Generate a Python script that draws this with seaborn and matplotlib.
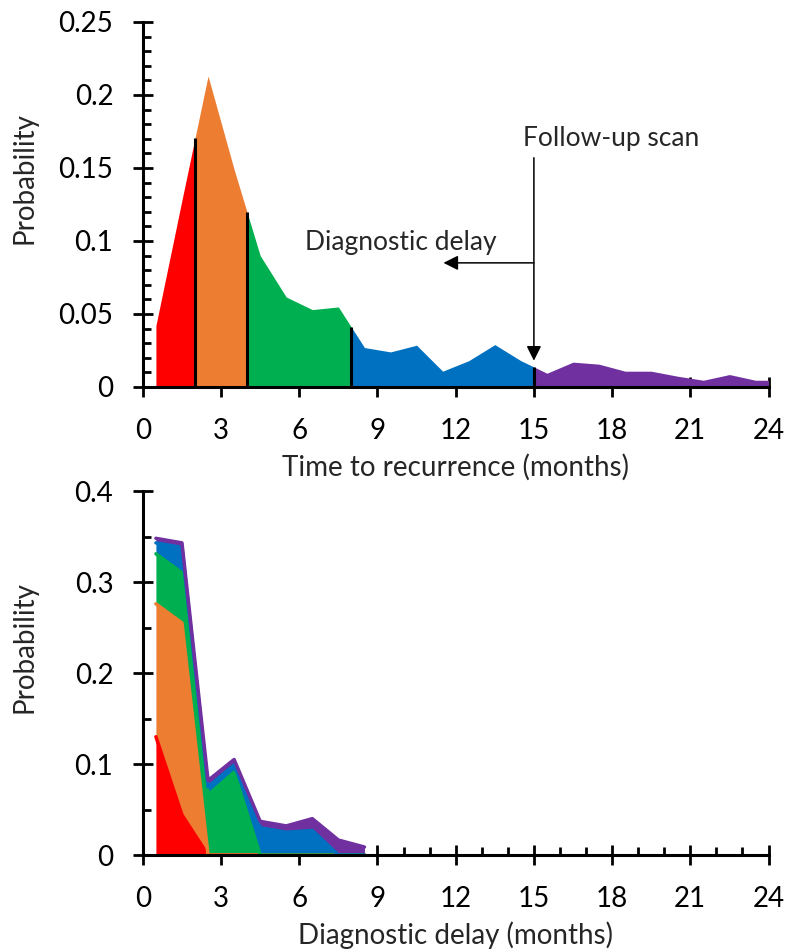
import numpy as np
import matplotlib
matplotlib.use("Agg")
import matplotlib.pyplot as plt
from matplotlib.ticker import MultipleLocator, FuncFormatter
import seaborn as sns

# --- top panel: time to recurrence, probability per month (bin centres) ---
recurrence_months = [0.5, 1.5, 2.5, 3.5, 4.5, 5.5, 6.5, 7.5, 8.5, 9.5, 10.5, 11.5,
                     12.5, 13.5, 14.5, 15.5, 16.5, 17.5, 18.5, 19.5, 20.5, 21.5,
                     22.5, 23.5, 24.0]
recurrence_prob = [0.042, 0.128, 0.213, 0.149, 0.090, 0.0616, 0.053, 0.0548,
                   0.027, 0.024, 0.0286, 0.0108, 0.018, 0.029, 0.018, 0.0094,
                   0.017, 0.0156, 0.0108, 0.0108, 0.0074, 0.0046, 0.0085,
                   0.0046, 0.0046]

# colour bands of the top curve (month boundaries)
band_edges = [0.5, 2, 4, 8, 15, 24]
band_colors = ["#FF0000", "#ED7D31", "#00B050", "#0070C0", "#7030A0"]
follow_up_month = 15

# --- bottom panel: diagnostic delay, stacked by band ---
delay_months = [0.5, 1.5, 2.5, 3.5, 4.5, 5.5, 6.5, 7.5, 8.5]
delay_red = [0.130, 0.044, 0, 0, 0, 0, 0, 0, 0]
delay_orange = [0.146, 0.211, 0, 0, 0, 0, 0, 0, 0]
delay_green = [0.055, 0.055, 0.066, 0.091, 0, 0, 0, 0, 0]
delay_blue = [0.012, 0.028, 0.009, 0.008, 0.030, 0.025, 0.027, 0, 0]
delay_purple = [0.005, 0.005, 0.007, 0.006, 0.007, 0.007, 0.013, 0.0165, 0.0088]

sns.set_theme(style="ticks")
plt.rcParams["font.family"] = ["Lato", "DejaVu Sans"]
FS = 20

fig = plt.figure(figsize=(7.85, 9.51), dpi=100)
ax1 = fig.add_axes([0.182, 0.5931, 0.797, 0.3838])
ax2 = fig.add_axes([0.182, 0.1009, 0.797, 0.3828])


def style_axis(ax, ymax, ymajor, yminor, xlabel):
    ax.set_xlim(0, 24)
    ax.set_ylim(0, ymax)
    ax.xaxis.set_major_locator(MultipleLocator(3))
    ax.xaxis.set_minor_locator(MultipleLocator(1))
    ax.yaxis.set_major_locator(MultipleLocator(ymajor))
    ax.yaxis.set_minor_locator(MultipleLocator(yminor))
    ax.yaxis.set_major_formatter(FuncFormatter(lambda v, p: f"{v:g}"))
    for s in ["top", "right"]:
        ax.spines[s].set_visible(False)
    for s in ["left", "bottom"]:
        ax.spines[s].set_linewidth(2.2)
        ax.spines[s].set_color("black")
        ax.spines[s].set_zorder(5)
    ax.tick_params(which="major", direction="inout", length=14.5, width=2.0,
                   color="black", labelsize=FS, labelcolor="black")
    ax.tick_params(which="minor", direction="in", length=6, width=2.0, color="black")
    ax.tick_params(axis="x", which="major", pad=15)
    ax.tick_params(axis="y", which="major", pad=14)
    ax.set_facecolor("white")
    ax.set_xlabel(xlabel, fontsize=FS, labelpad=7)
    ax.set_ylabel("Probability", fontsize=FS)
    ax.yaxis.set_label_coords(-0.169, 0.572)


# top panel
style_axis(ax1, 0.25, 0.05, 0.01, "Time to recurrence (months)")
for a, b, c in zip(band_edges[:-1], band_edges[1:], band_colors):
    xs = [a] + [m for m in recurrence_months if a < m < b] + [b]
    ys = np.interp(xs, recurrence_months, recurrence_prob)
    ax1.fill_between(xs, 0, ys, color=c, lw=0, zorder=2)
for b in band_edges[1:-1]:
    ax1.vlines(b, 0, np.interp(b, recurrence_months, recurrence_prob),
               color="black", lw=2.2, zorder=3)

ax1.annotate("", xy=(follow_up_month, 0.018), xytext=(follow_up_month, 0.157),
             arrowprops=dict(arrowstyle="-|>", color="black", lw=1.1,
                             mutation_scale=22, shrinkA=0, shrinkB=0))
ax1.annotate("", xy=(11.53, 0.085), xytext=(follow_up_month, 0.085),
             arrowprops=dict(arrowstyle="-|>", color="black", lw=1.1,
                             mutation_scale=22, shrinkA=0, shrinkB=0))
ax1.text(14.6, 0.165, "Follow-up scan", fontsize=19, ha="left", va="baseline")
ax1.text(6.23, 0.094, "Diagnostic delay", fontsize=19, ha="left", va="baseline")

# bottom panel
style_axis(ax2, 0.4, 0.1, 0.05, "Diagnostic delay (months)")
layers = [delay_red, delay_orange, delay_green, delay_blue, delay_purple]
ax2.stackplot(delay_months, layers, colors=band_colors, lw=0, zorder=2)
tops = np.cumsum(np.array(layers), axis=0)
for top, c in zip(tops, band_colors):
    sns.lineplot(x=delay_months, y=top, color=c, lw=2.5, ax=ax2, zorder=3)

fig.savefig("out.png", dpi=100, facecolor="white")
